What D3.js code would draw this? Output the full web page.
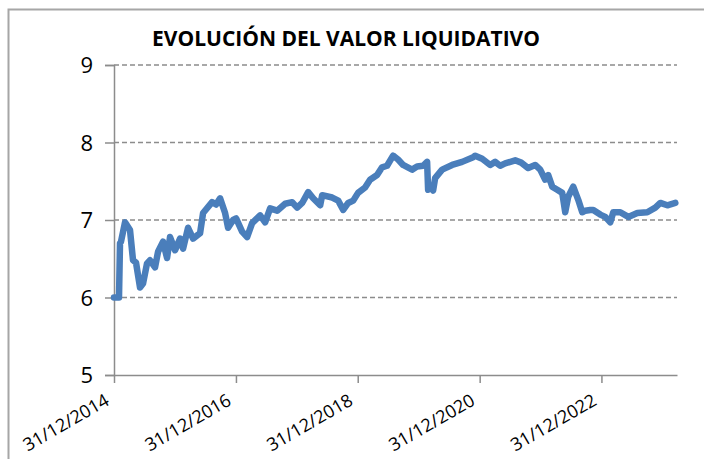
<!DOCTYPE html>
<meta charset="utf-8">
<style>
body{
  margin:0;
  background:#fff;
}
svg text{
  font-family:"Open Sans", "DejaVu Sans", sans-serif;
  fill:#000;
}
.grid line{
  stroke:#8c8c8c;
  stroke-width:1.5px;
  stroke-dasharray:5,3;
}
.axis path, .axis line{
  stroke:#8c8c8c;
  stroke-width:1.5px;
}
</style>
<body>
<script src="https://cdn.jsdelivr.net/npm/d3@7"></script>
<script>
var W=704, H=459;
var margin={left:114, right:27, top:65, bottom:84};

// valor liquidativo
var dates=["2014-12-31","2015-01-30","2015-02-05","2015-02-11","2015-03-07","2015-04-06","2015-04-24","2015-05-12",
  "2015-06-05","2015-06-23","2015-07-17","2015-08-04","2015-09-03","2015-09-21","2015-10-21","2015-11-14","2015-12-02",
  "2016-01-01","2016-01-31","2016-02-18","2016-03-19","2016-04-18","2016-05-30","2016-06-17","2016-08-10","2016-09-03",
  "2016-09-27","2016-10-27","2016-11-14","2016-12-14","2017-01-01","2017-02-06","2017-03-08","2017-04-07","2017-05-25",
  "2017-06-24","2017-07-24","2017-09-04","2017-10-22","2017-12-03","2018-01-02","2018-02-01","2018-03-09","2018-04-08",
  "2018-05-20","2018-06-01","2018-07-31","2018-09-05","2018-10-05","2018-11-04","2018-12-04","2019-01-02","2019-02-13",
  "2019-03-15","2019-04-26","2019-05-26","2019-06-25","2019-07-31","2019-08-30","2019-09-29","2019-11-22","2019-12-22",
  "2020-01-27","2020-02-20","2020-02-26","2020-03-15","2020-03-27","2020-04-08","2020-05-20","2020-07-19","2020-09-17",
  "2020-11-22","2020-12-04","2021-01-15","2021-03-04","2021-04-03","2021-05-03","2021-06-02","2021-08-01","2021-09-06",
  "2021-10-18","2021-11-29","2021-12-29","2022-01-28","2022-02-15","2022-03-11","2022-04-10","2022-05-10","2022-05-28",
  "2022-06-15","2022-07-15","2022-08-14","2022-09-07","2022-09-25","2022-10-25","2022-11-12","2022-12-24","2023-01-23",
  "2023-02-22","2023-03-12","2023-04-23","2023-06-10","2023-08-03","2023-10-02","2023-11-19","2023-12-19","2024-01-30",
  "2024-03-18"];
var values=[6.00,6.00,6.70,6.72,6.97,6.87,6.48,6.45,
  6.13,6.18,6.44,6.48,6.39,6.59,6.72,6.51,6.78,
  6.61,6.76,6.63,6.90,6.76,6.83,7.09,7.23,7.20,
  7.28,7.09,6.90,7.00,7.02,6.85,6.78,6.96,7.06,
  6.97,7.15,7.12,7.21,7.23,7.16,7.22,7.36,7.28,
  7.19,7.32,7.29,7.25,7.13,7.22,7.25,7.35,7.42,
  7.52,7.58,7.68,7.70,7.83,7.78,7.71,7.65,7.69,
  7.70,7.75,7.39,7.42,7.38,7.54,7.65,7.71,7.75,
  7.81,7.83,7.79,7.71,7.75,7.70,7.73,7.77,7.74,
  7.67,7.71,7.65,7.52,7.58,7.43,7.39,7.35,7.10,
  7.30,7.43,7.26,7.10,7.12,7.13,7.13,7.07,7.04,
  6.97,7.10,7.10,7.04,7.09,7.10,7.16,7.22,7.19,
  7.22];

var yTicks=[5,6,7,8,9];
var xTickDates=["2014-12-31","2016-12-31","2018-12-31","2020-12-31","2022-12-31"];
var xEnd="2024-03-28";
var title="EVOLUCIÓN DEL VALOR LIQUIDATIVO";

var parse=d3.timeParse("%Y-%m-%d");
var fmt=d3.timeFormat("%d/%m/%Y");
var data=dates.map(function(d,i){ return {date:parse(d), v:values[i]}; });

var svg=d3.select("body").append("svg").attr("width",W).attr("height",H);

// chart border
svg.append("rect").attr("x",8.5).attr("y",9.5).attr("width",W+20).attr("height",H+20)
  .attr("fill","#fff").attr("stroke","#a6a6a6").attr("stroke-width",2);

var x=d3.scaleTime().domain([parse(xTickDates[0]),parse(xEnd)]).range([margin.left,W-margin.right]);
var y=d3.scaleLinear().domain([5,9]).range([H-margin.bottom,margin.top]);

// gridlines
svg.append("g").attr("class","grid").selectAll("line").data(yTicks.filter(function(d){ return d>5; })).enter()
  .append("line")
  .attr("x1",margin.left).attr("x2",W-margin.right)
  .attr("y1",function(d){ return y(d);}).attr("y2",function(d){ return y(d);});

// y axis
var yAxis=svg.append("g").attr("class","axis").attr("transform","translate("+margin.left+",0)")
  .call(d3.axisLeft(y).tickValues(yTicks).tickSize(9).tickPadding(12).tickFormat(d3.format("d")));
yAxis.selectAll("text").style("font-size","22px").attr("dy","0.35em");

// x axis
var xAxis=svg.append("g").attr("class","axis").attr("transform","translate(0,"+y(5)+")")
  .call(d3.axisBottom(x).tickValues(xTickDates.map(parse)).tickSize(8).tickSizeOuter(0).tickFormat(fmt));
xAxis.selectAll("text").style("font-size","18px")
  .attr("text-anchor","end").attr("dy","0").attr("y","0")
  .attr("transform","translate(-4,29) rotate(-30)");

// line
svg.append("path").datum(data)
  .attr("fill","none").attr("stroke","#4a7ebb").attr("stroke-width",6.5)
  .attr("stroke-linejoin","round").attr("stroke-linecap","round")
  .attr("d",d3.line().x(function(d){ return x(d.date);}).y(function(d){ return y(d.v);}));

// title
svg.append("text").attr("x",346).attr("y",46).attr("text-anchor","middle")
  .style("font-size","21px").style("font-weight","bold").text(title);
</script>
</body>
